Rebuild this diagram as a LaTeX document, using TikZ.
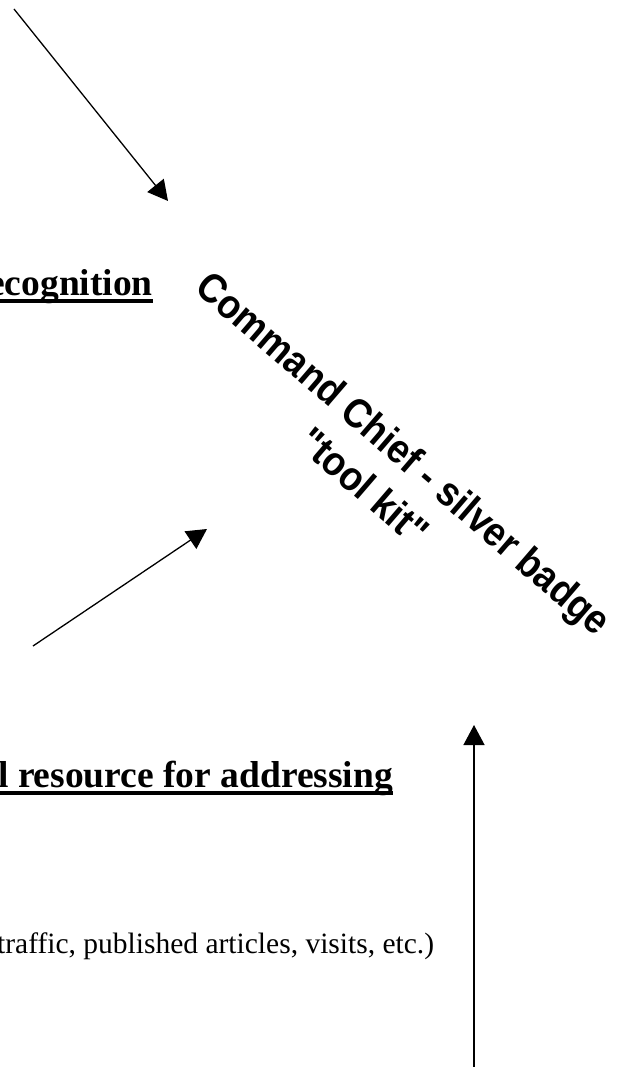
\documentclass[tikz,border=0pt]{standalone}
\usepackage{fontspec}
\setmainfont{Liberation Serif}
\newfontfamily\badgefont{Liberation Sans}
\usetikzlibrary{arrows.meta}
% condensed bold lettering for the rotated badge title
\newcommand{\badgetext}[1]{\scalebox{0.9}[1]{#1}}
\begin{document}
\begin{tikzpicture}[x=1pt,y=-1pt,
  pointer/.style={line width=1.3pt,-{Triangle[length=20pt,width=21pt]}},
  heading/.style={inner sep=0pt,font=\fontsize{37.5}{45}\selectfont\bfseries},
  headrule/.style={line width=3.5pt},
  badge/.style={inner sep=0pt,rotate=-40.7,font=\badgefont\bfseries\fontsize{41}{47}\selectfont},
  body/.style={inner sep=0pt,font=\fontsize{29.5}{36}\selectfont}]
\useasboundingbox (0,0) rectangle (622,1067);
\fill[white] (0,0) rectangle (622,1067);

% headings
\node[heading,anchor=base east] (rec) at (153,295) {ecognition};
\draw[headrule] ([yshift=-6pt]rec.base west) -- ([yshift=-6pt]rec.base east);
\node[heading,anchor=base west] (res) at (-2,787) {l resource for addressing};
\draw[headrule] ([yshift=-6pt]res.base west) -- ([yshift=-6pt]res.base east);
\node[body,anchor=base west] (traffic) at (-3,953) {traffic, published articles, visits, etc.)};

% rotated badge title
\node[badge,anchor=base] (cmd) at (395,464) {\badgetext{Command Chief - silver badge}};
\node[badge,anchor=base] (kit) at (355,497) {\badgetext{"tool kit"}};

% pointers
\coordinate (a1s) at (14,9);
\coordinate (a1e) at (168,201);
\coordinate (a2s) at (33,646);
\coordinate (a2e) at (207,529);
\coordinate (a3s) at (474,1067);
\coordinate (a3e) at (474,725);
\draw[pointer] (a1s) -- (a1e);
\draw[pointer] (a2s) -- (a2e);
\draw[pointer] (a3s) -- (a3e);
\end{tikzpicture}
\end{document}
